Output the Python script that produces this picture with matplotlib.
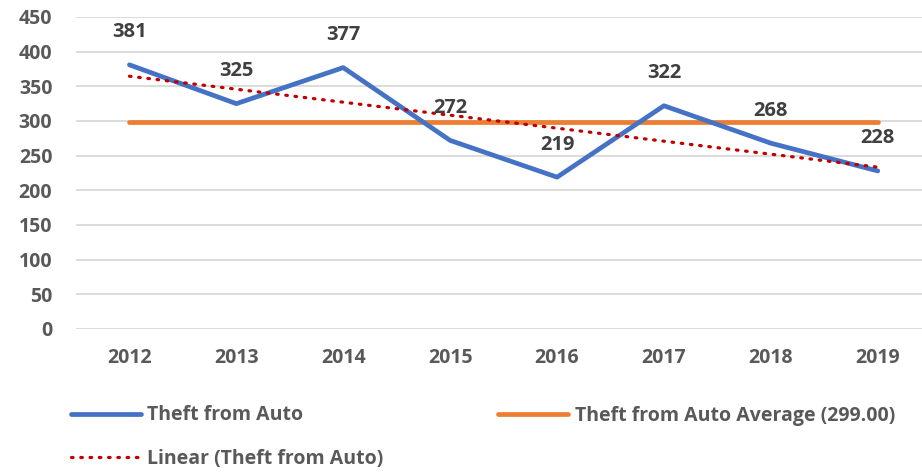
import numpy as np
import matplotlib
matplotlib.use("Agg")
import matplotlib.pyplot as plt

plt.rcParams['font.family'] = ['Open Sans', 'DejaVu Sans']

years = ["2012", "2013", "2014", "2015", "2016", "2017", "2018", "2019"]
theft = [381, 325, 377, 272, 219, 322, 268, 228]
average = 299.00

W, H = 922, 474
fig = plt.figure(figsize=(W / 100, H / 100), dpi=100, facecolor='white')
# plot area in pixels: left 76, top 17, bottom 329, band width ~106.9
left, top, bottom = 76, 17, 329
width = 8 * 106.9
ax = fig.add_axes([left / W, 1 - bottom / H, width / W, (bottom - top) / H])

x = np.arange(len(years))
text_col = '#595959'

# trend line from a least squares fit, like the spreadsheet's linear trendline
k, b = np.polyfit(x, theft, 1)
trend = k * x + b

l1, = ax.plot(x, theft, color='#4472C4', lw=3.4, solid_capstyle='round', zorder=3,
              label='Theft from Auto')
l2, = ax.plot(x, [average] * len(x), color='#ED7D31', lw=3.4, solid_capstyle='round',
              zorder=2, label='Theft from Auto Average (%.2f)' % average)
l3, = ax.plot(x, trend, color='#C00000', lw=2.3, ls=(0, (0.5, 2.4)),
              dash_capstyle='round', zorder=4, label='Linear (Theft from Auto)')

for xi, v in zip(x, theft):
    ax.annotate(str(v), (xi, v), xytext=(0, 23.5), textcoords='offset points',
                ha='center', va='center', fontsize=14.5, fontweight='bold',
                color='#404040', zorder=5)

ax.set_xlim(-0.5, len(years) - 0.5)
ax.set_ylim(0, 450)
ax.set_yticks(range(0, 451, 50))
ax.set_xticks(x)
ax.set_xticklabels(years)
ax.grid(axis='y', color='#D9D9D9', lw=1.3)
ax.set_axisbelow(True)
for s in ax.spines.values():
    s.set_visible(False)
ax.tick_params(axis='both', length=0, labelsize=14, labelcolor=text_col)
ax.tick_params(axis='y', pad=17)
ax.tick_params(axis='x', pad=14)
for lab in ax.get_xticklabels() + ax.get_yticklabels():
    lab.set_fontweight('bold')

leg = fig.legend(handles=[l1, l3, l2], ncol=2, loc='upper left',
                 bbox_to_anchor=(53 / W, 1 - 388 / H), frameon=False,
                 prop={'size': 14, 'weight': 'bold'}, handlelength=3.6,
                 handletextpad=0.35, columnspacing=5.9, labelspacing=1.2)
for t in leg.get_texts():
    t.set_color(text_col)

fig.savefig('out.png', dpi=100, facecolor='white')
